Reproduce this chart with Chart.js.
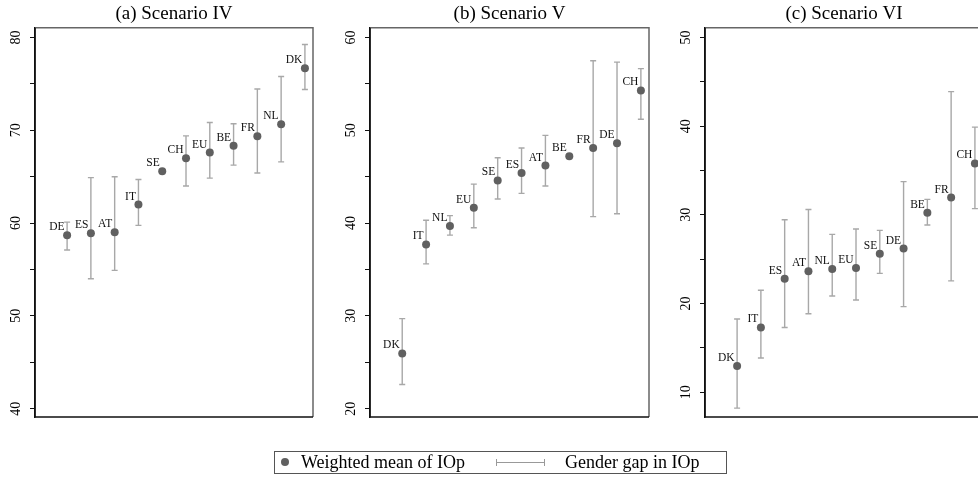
<!DOCTYPE html>
<html><head><meta charset="utf-8">
<script src="https://cdn.jsdelivr.net/npm/chart.js@4/dist/chart.umd.min.js"></script>
<style>
html,body{margin:0;padding:0;background:#fff;overflow:hidden;width:978px;height:481px;position:relative;}
canvas{position:absolute;top:0;}
#legend{position:absolute;left:274px;top:451px;width:453px;height:23px;border:1px solid #555;box-sizing:border-box;font-family:"Liberation Serif",serif;font-size:18px;color:#000;}
#legend .dot{position:absolute;left:6px;top:6px;width:8px;height:8px;border-radius:50%;background:#606060;}
#legend .t{position:absolute;top:0;line-height:21px;white-space:nowrap;}
#legend .ln{position:absolute;left:221px;top:10px;width:48px;height:0;border-top:1px solid #999;}
#legend .cap{position:absolute;top:7px;width:0;height:7px;border-left:1px solid #999;}
</style></head>
<body>
<canvas id="ca" width="317" height="481" style="left:0px"></canvas>
<canvas id="cb" width="318" height="481" style="left:335px"></canvas>
<canvas id="cc" width="317" height="481" style="left:670px"></canvas>
<div id="legend">
  <div class="dot"></div><div class="t" style="left:26px">Weighted mean of IOp</div>
  <div class="cap" style="left:221px"></div><div class="ln"></div><div class="cap" style="left:269px"></div>
  <div class="t" style="left:290px">Gender gap in IOp</div>
</div>
<script>
// ---- data ----
const titleA = '(a) Scenario IV';
const countriesA = ['DE','ES','AT','IT','SE','CH','EU','BE','FR','NL','DK'];
const meanA = [58.7, 58.9, 59.0, 62.0, 65.6, 67.0, 67.6, 68.35, 69.35, 70.65, 76.7];
const lowA  = [57.1, 54.0, 54.9, 59.75, null, 64.0, 64.85, 66.25, 65.4, 66.6, 74.4];
const highA = [60.1, 64.9, 65.0, 64.7, null, 69.4, 70.85, 70.7, 74.45, 75.8, 79.25];
const ticksA = [40,45,50,55,60,65,70,75,80];

const titleB = '(b) Scenario V';
const countriesB = ['DK','IT','NL','EU','SE','ES','AT','BE','FR','DE','CH'];
const meanB = [25.95, 37.7, 39.7, 41.65, 44.6, 45.4, 46.2, 47.2, 48.1, 48.6, 54.3];
const lowB  = [22.6, 35.6, 38.7, 39.5, 42.6, 43.2, 44.0, 47.1, 40.7, 41.0, 51.2];
const highB = [29.7, 40.3, 40.8, 44.2, 47.05, 48.1, 49.45, 47.3, 57.5, 57.35, 56.65];
const ticksB = [20,25,30,35,40,45,50,55,60];

const titleC = '(c) Scenario VI';
const countriesC = ['DK','IT','ES','AT','NL','EU','SE','DE','BE','FR','CH'];
const meanC = [12.95, 17.3, 22.8, 23.65, 23.9, 24.0, 25.6, 26.2, 30.25, 31.95, 35.8];
const lowC  = [8.2, 13.85, 17.3, 18.85, 20.85, 20.4, 23.4, 19.65, 28.85, 22.55, 30.7];
const highC = [18.25, 21.5, 29.45, 30.6, 27.8, 28.4, 28.25, 33.75, 31.75, 43.9, 39.9];
const ticksC = [10,15,20,25,30,35,40,45,50];

const SERIF = '"Liberation Serif", "Times New Roman", serif';

const panelPlugin = {
  id: 'panel',
  beforeDatasetsDraw(chart) {
    const o = chart.options.plugins.panel;
    const ctx = chart.ctx, xs = chart.scales.x, ys = chart.scales.y;
    ctx.save();
    ctx.strokeStyle = '#a8a8a8';
    ctx.lineWidth = 1.4;
    o.low.forEach((lo, i) => {
      const hi = o.high[i];
      if (lo == null || hi == null) return;
      const px = xs.getPixelForValue(i + 1);
      const p1 = ys.getPixelForValue(lo), p2 = ys.getPixelForValue(hi);
      ctx.beginPath();
      ctx.moveTo(px, p1); ctx.lineTo(px, p2);
      ctx.moveTo(px - 3, p1); ctx.lineTo(px + 3, p1);
      ctx.moveTo(px - 3, p2); ctx.lineTo(px + 3, p2);
      ctx.stroke();
    });
    ctx.restore();
  },
  afterDatasetsDraw(chart) {
    const o = chart.options.plugins.panel;
    const ctx = chart.ctx, xs = chart.scales.x, ys = chart.scales.y;
    const a = chart.chartArea;
    ctx.save();
    // country labels
    ctx.font = '11.5px ' + SERIF;
    ctx.fillStyle = '#111';
    ctx.textAlign = 'right';
    ctx.textBaseline = 'alphabetic';
    o.labels.forEach((lab, i) => {
      const px = xs.getPixelForValue(i + 1);
      const py = ys.getPixelForValue(o.mean[i]);
      ctx.fillText(lab, px - 2.5, py - 5);
    });
    // frame
    ctx.lineWidth = 1.5;
    ctx.strokeStyle = '#666';
    ctx.beginPath();
    ctx.moveTo(a.left, a.top); ctx.lineTo(a.right, a.top); ctx.lineTo(a.right, a.bottom);
    ctx.stroke();
    ctx.strokeStyle = '#111';
    ctx.beginPath();
    ctx.moveTo(a.left, a.top); ctx.lineTo(a.left, a.bottom); ctx.lineTo(a.right, a.bottom);
    ctx.stroke();
    // y tick labels, rotated
    ctx.font = '14px ' + SERIF;
    ctx.fillStyle = '#000';
    ctx.textAlign = 'center';
    ctx.textBaseline = 'middle';
    ys.ticks.forEach(t => {
      if (t.value % 10 !== 0) return;
      const py = ys.getPixelForValue(t.value);
      ctx.save();
      ctx.translate(a.left - 19, py);
      ctx.rotate(-Math.PI / 2);
      ctx.fillText(String(t.value), 0, 0);
      ctx.restore();
    });
    ctx.restore();
  }
};

function makePanel(id, title, labels, mean, low, high, ticks, yMin, yMax) {
  new Chart(document.getElementById(id), {
    type: 'scatter',
    data: {
      datasets: [{
        data: mean.map((v, i) => ({x: i + 1, y: v})),
        pointRadius: 4,
        pointBackgroundColor: '#606060',
        pointBorderWidth: 0,
        pointHoverRadius: 4
      }]
    },
    options: {
      responsive: false,
      animation: false,
      devicePixelRatio: 1,
      events: [],
      layout: {padding: {top: 0, bottom: 64, left: 0, right: 0}},
      scales: {
        x: {type: 'linear', min: -0.35, max: 11.34, display: false},
        y: {
          type: 'linear', min: yMin, max: yMax,
          afterBuildTicks: s => { s.ticks = ticks.map(v => ({value: v})); },
          afterFit: s => { s.width = 35; },
          ticks: {display: false},
          grid: {drawOnChartArea: false, drawTicks: true, tickLength: 5, color: '#111', lineWidth: 1},
          border: {display: true, color: '#111', width: 1.5}
        }
      },
      plugins: {
        legend: {display: false},
        tooltip: {enabled: false},
        title: {
          display: true, text: title, fullSize: false,
          font: {family: SERIF, size: 19, weight: 'normal'},
          color: '#000',
          padding: {top: 3, bottom: 2}
        },
        panel: {labels, mean, low, high}
      }
    },
    plugins: [panelPlugin]
  });
}

makePanel('ca', titleA, countriesA, meanA, lowA, highA, ticksA, 39.1, 81.05);
makePanel('cb', titleB, countriesB, meanB, lowB, highB, ticksB, 19.1, 61.05);
makePanel('cc', titleC, countriesC, meanC, lowC, highC, ticksC, 7.2, 51.1);
</script>
</body></html>
